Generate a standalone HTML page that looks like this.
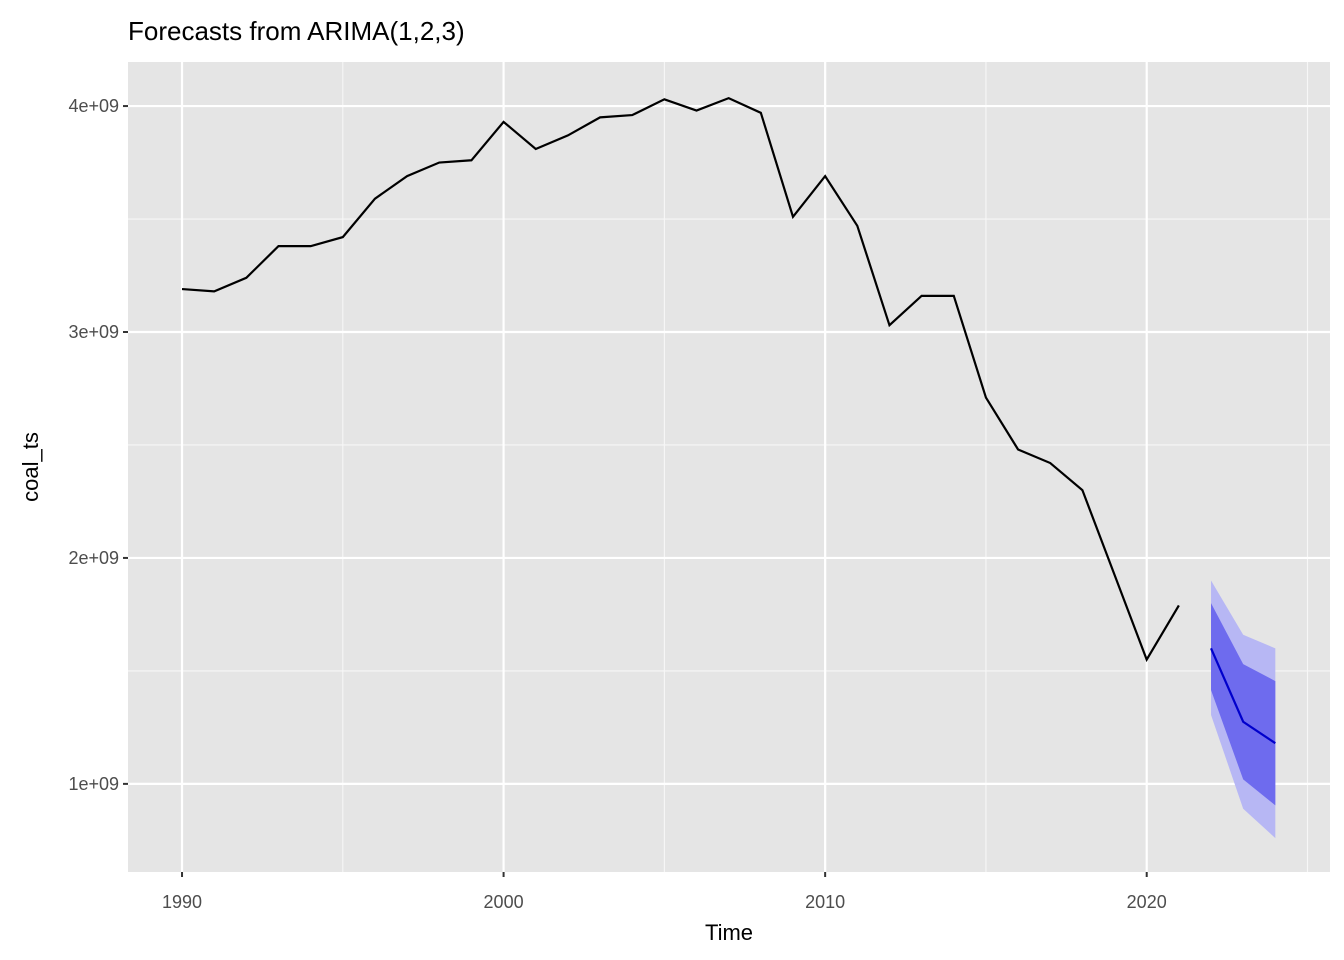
<!DOCTYPE html>
<html><head><meta charset="utf-8"><style>body{margin:0;background:#fff}svg{display:block}text{font-family:"Liberation Sans",Arial,sans-serif}</style></head>
<body>
<svg id="c" width="1344" height="960"></svg>
<script>
const years=[1990,1991,1992,1993,1994,1995,1996,1997,1998,1999,2000,2001,2002,2003,2004,2005,2006,2007,2008,2009,2010,2011,2012,2013,2014,2015,2016,2017,2018,2019,2020,2021];
const values=[3.19,3.18,3.24,3.38,3.38,3.42,3.59,3.69,3.75,3.76,3.93,3.81,3.87,3.95,3.96,4.03,3.98,4.035,3.97,3.51,3.69,3.47,3.03,3.16,3.16,2.71,2.48,2.42,2.30,1.925,1.55,1.79];
const fYears=[2022,2023,2024];
const fMean=[1.60,1.275,1.18];
const lo80=[1.415,1.02,0.905], hi80=[1.80,1.53,1.455];
const lo95=[1.305,0.89,0.76], hi95=[1.90,1.66,1.60];
const xTicks=[1990,2000,2010,2020], xMinor=[1995,2005,2015,2025];
const yTicks=[1,2,3,4], yTickLabels=["1e+09","2e+09","3e+09","4e+09"], yMinor=[1.5,2.5,3.5];
const L=128,R=1330,T=62,B=872;
const x0=1988.32,x1=2025.7,y0=0.61,y1=4.195;
const X=v=>L+(v-x0)/(x1-x0)*(R-L);
const Y=v=>B-(v-y0)/(y1-y0)*(B-T);
const svg=document.getElementById('c');const NS='http://www.w3.org/2000/svg';
function el(t,a,p){const e=document.createElementNS(NS,t);for(const k in a)e.setAttribute(k,a[k]);(p||svg).appendChild(e);return e;}
const bg=el('rect',{x:L,y:T,width:R-L,height:B-T,fill:'#e5e5e5'});


xMinor.forEach(v=>el('line',{x1:X(v),x2:X(v),y1:T,y2:B,stroke:'#f7f7f7','stroke-width':1.1}));
yMinor.forEach(v=>el('line',{x1:L,x2:R,y1:Y(v),y2:Y(v),stroke:'#f7f7f7','stroke-width':1.1}));
xTicks.forEach(v=>{el('line',{x1:X(v),x2:X(v),y1:T,y2:B,stroke:'#fff','stroke-width':2.2});
el('line',{x1:X(v),x2:X(v),y1:B,y2:B+5,stroke:'#333','stroke-width':2});
const t=el('text',{x:X(v),y:B+36,'text-anchor':'middle','font-size':18,fill:'#4d4d4d'});t.textContent=v;

});
yTicks.forEach((v,i)=>{el('line',{x1:L,x2:R,y1:Y(v),y2:Y(v),stroke:'#fff','stroke-width':2.2});
el('line',{x1:L-5,x2:L,y1:Y(v),y2:Y(v),stroke:'#333','stroke-width':2});
const t=el('text',{x:L-9,y:Y(v)+6,'text-anchor':'end','font-size':18,fill:'#4d4d4d'});t.textContent=yTickLabels[i];

});
function band(lo,hi,c,n){let d=fYears.map((y,i)=>(i?'L':'M')+X(y)+','+Y(hi[i])).join('')+fYears.slice().reverse().map((y,j)=>{const i=fYears.length-1-j;return 'L'+X(y)+','+Y(lo[i]);}).join('')+'Z';
const p=el('path',{d:d,fill:c});}
band(lo95,hi95,'#b7b7f4','band-95');
band(lo80,hi80,'#6e6bee','band-80');
const h=el('polyline',{points:years.map((y,i)=>X(y)+','+Y(values[i])).join(' '),fill:'none',stroke:'#000','stroke-width':2.2});


const f=el('polyline',{points:fYears.map((y,i)=>X(y)+','+Y(fMean[i])).join(' '),fill:'none',stroke:'#0000cc','stroke-width':2.2});


const tt=el('text',{x:128,y:40,'font-size':26,fill:'#000'});tt.textContent='Forecasts from ARIMA(1,2,3)';


const xt=el('text',{x:(L+R)/2,y:940,'text-anchor':'middle','font-size':22,fill:'#000'});xt.textContent='Time';


const yt=el('text',{x:0,y:0,'text-anchor':'middle','font-size':22,fill:'#000',transform:'translate(38,'+((T+B)/2)+') rotate(-90)'});yt.textContent='coal_ts';


</script>
</body></html>
